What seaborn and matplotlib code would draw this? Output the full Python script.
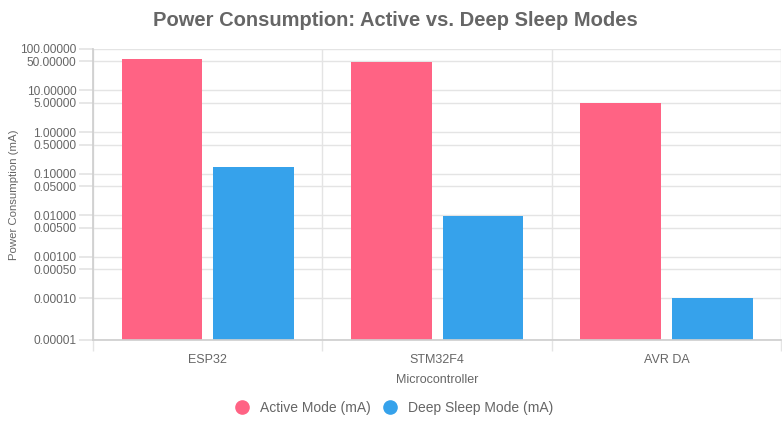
import pandas as pd
import numpy as np
import matplotlib.pyplot as plt
import seaborn as sns
from matplotlib.lines import Line2D
from matplotlib.ticker import FixedLocator, NullLocator

# chart data
controllers = ['ESP32', 'STM32F4', 'AVR DA']
active_ma = [56, 48, 5]
sleep_ma = [0.145, 0.0095, 0.0001]
series_names = ['Active Mode (mA)', 'Deep Sleep Mode (mA)']
y_ticks = [0.00001, 0.0001, 0.0005, 0.001, 0.005, 0.01, 0.05, 0.1, 0.5, 1, 5, 10, 50, 100]

colors = ['#FF6384', '#36A2EB']
text_col = '#666666'

sns.set_theme(style='white')
plt.rcParams['font.family'] = ['Liberation Sans', 'DejaVu Sans']

df = pd.DataFrame({
    'Microcontroller': controllers * 2,
    'Mode': [series_names[0]] * 3 + [series_names[1]] * 3,
    'Value': active_ma + sleep_ma,
})

fig = plt.figure(figsize=(7.82, 4.25), dpi=100)
ax = fig.add_axes([0.119, 0.2, 0.880, 0.685])

sns.barplot(data=df, x='Microcontroller', y='Value', hue='Mode',
            palette=colors, width=0.8, gap=0.12, ax=ax,
            saturation=1, legend=False, edgecolor='none')

ax.set_yscale('log')
ax.set_ylim(0.00001, 100)
ax.yaxis.set_major_locator(FixedLocator(y_ticks))
ax.yaxis.set_minor_locator(NullLocator())
ax.set_yticklabels([f'{t:.5f}' for t in y_ticks])
ax.set_xlim(-0.5, 2.5)

# category boundaries as grid lines
ax.xaxis.set_minor_locator(FixedLocator([-0.5, 0.5, 1.5, 2.5]))
ax.grid(True, which='major', axis='y', color='#e4e4e4', linewidth=1)
ax.grid(True, which='minor', axis='x', color='#e4e4e4', linewidth=1)
ax.set_axisbelow(True)

ax.tick_params(axis='x', which='major', length=0, pad=10, labelsize=9, labelcolor=text_col)
ax.tick_params(axis='x', which='minor', length=8, color='#e4e4e4', bottom=True)
ax.tick_params(axis='y', which='major', length=10, color='#e4e4e4', left=True,
               labelsize=8.6, labelcolor=text_col, pad=2)

for side in ['top', 'right']:
    ax.spines[side].set_visible(False)
ax.spines['left'].set_color('#cfcfcf')
ax.spines['bottom'].set_color('#cfcfcf')

ax.set_xlabel('Microcontroller', fontsize=9, color=text_col, labelpad=6)
ax.set_ylabel('Power Consumption (mA)', fontsize=8.2, color=text_col)
ax.yaxis.set_label_coords(-0.108, 0.5)

fig.suptitle('Power Consumption: Active vs. Deep Sleep Modes', x=0.505, y=0.975,
             fontsize=14.5, fontweight='bold', color=text_col)

handles = [Line2D([0], [0], marker='o', linestyle='', markersize=9.5,
                  markerfacecolor=c, markeredgecolor=c) for c in colors]
fig.legend(handles, series_names, loc='center', bbox_to_anchor=(0.5, 0.04),
           ncol=2, frameon=False, fontsize=10, labelcolor=text_col,
           handletextpad=0.3, columnspacing=0.4)

fig.savefig('out.png', dpi=100)
